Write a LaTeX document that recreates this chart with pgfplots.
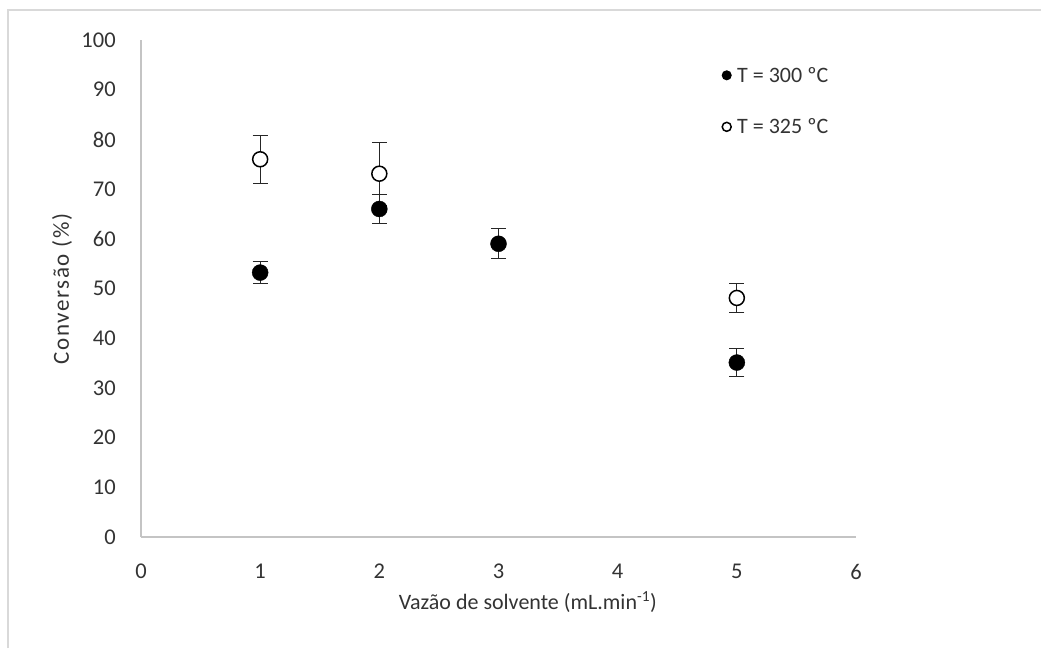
\documentclass[border=0pt]{standalone}
\usepackage{fontspec}
\setmainfont{Carlito}
\usepackage{pgfplots}
\usepackage{pgfplotstable}
\pgfplotsset{compat=1.18}
\definecolor{axisgray}{HTML}{C4C4C4}
\definecolor{txt}{HTML}{333333}
\pgfplotstableread{
x y e
1 53.2 2.2
2 66.0 2.9
3 59.0 3.0
5 35.1 2.8
}\tA
\pgfplotstableread{
x y e
1 76.0 4.8
2 73.1 6.3
5 48.1 3.0
}\tB
\begin{document}
\begin{tikzpicture}[x=1pt,y=1pt,font=\fontsize{22}{26}\selectfont]
\useasboundingbox (0,0) rectangle (1041,648);
\draw[color=black!15, line width=1.5pt] (8,0) -- (8,638) -- (1041,638);
\begin{axis}[at={(141pt,111pt)}, anchor=south west, scale only axis,
  width=715pt, height=497pt,
  xmin=0, xmax=6, ymin=0, ymax=100,
  xtick={0,1,...,6}, ytick={0,10,...,100},
  axis x line=bottom, axis y line=left,
  axis line style={axisgray, line width=1.5pt, -},
  tick style={draw=none},
  /pgf/number format/assume math mode=true,
  every tick label/.append style={font=\fontsize{22.5}{26}\selectfont, text=txt},
  yticklabel style={anchor=east, inner sep=0pt, xshift=-23pt},
  xticklabel style={anchor=north, inner sep=0pt, yshift=-25pt},
  xlabel={Vazão de solvente (mL.min\textsuperscript{-1})},
  ylabel={\addfontfeature{LetterSpace=7}Conversão (\%)},
  label style={font=\fontsize{22}{26}\selectfont, text=txt},
  xlabel style={at={(axis description cs:0.541,0)}, anchor=center, yshift=-65pt},
  ylabel style={at={(axis description cs:-0.1105,0.499)}, anchor=center,
    font=\fontsize{23}{27}\selectfont},
  clip=false,
  reverse legend,
  legend style={draw=none, fill=none, at={(0.8126,0.950)}, anchor=north west,
    font=\fontsize{22}{26}\selectfont, text=txt, row sep=31pt, column sep=4pt,
    inner sep=0pt, cells={anchor=west}},
  legend image code/.code={\draw[#1, mark size=4.5pt, line width=1pt] plot coordinates {(0pt,0pt)};},
]
\addplot[only marks, mark=*, mark size=7.5pt, draw=black, fill=white,
  mark options={line width=1.5pt, fill=white},
  error bars/.cd, y dir=both, y explicit,
  error bar style={black!85, line width=1pt},
  error mark options={rotate=90, mark size=7.5pt, black!85, line width=1pt}]
  table[x=x, y=y, y error=e]{\tB};
\addlegendentry{T = 325 ºC}
\addplot[only marks, mark=*, mark size=8pt, draw=black, fill=black,
  error bars/.cd, y dir=both, y explicit,
  error bar style={black!85, line width=1pt},
  error mark options={rotate=90, mark size=7.5pt, black!85, line width=1pt}]
  table[x=x, y=y, y error=e]{\tA};
\addlegendentry{T = 300 ºC}
\end{axis}
\end{tikzpicture}
\end{document}
